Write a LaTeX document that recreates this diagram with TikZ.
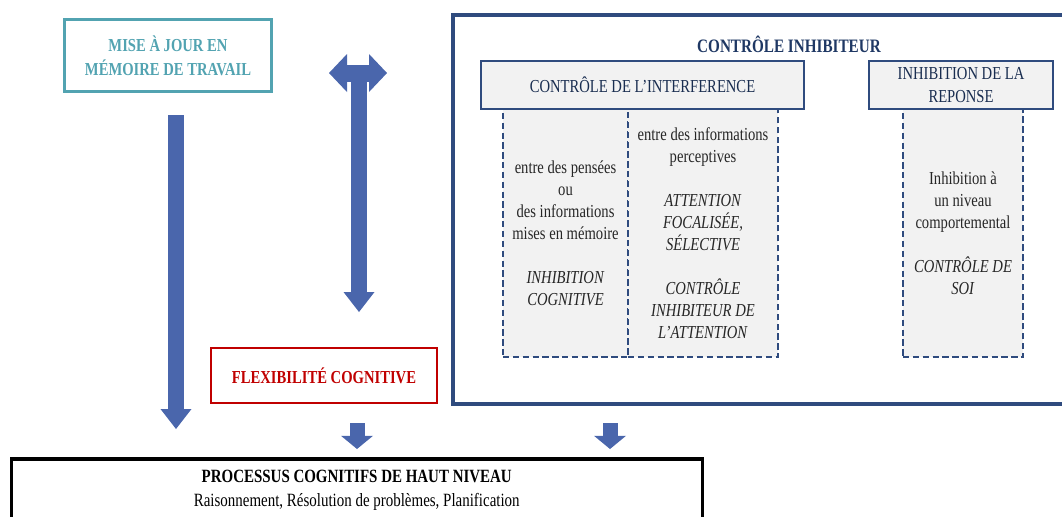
\documentclass[tikz,border=0pt]{standalone}
\usepackage{fontspec}
\setmainfont{Liberation Serif}[FakeStretch=0.8]
\usepackage{xcolor}
\usepackage{tikz}
\usetikzlibrary{shapes,positioning,arrows.meta}
\definecolor{tealc}{HTML}{52A3B1}
\definecolor{arrblue}{HTML}{4A66AC}
\definecolor{boxblue}{HTML}{2F4B7E}
\definecolor{navy}{HTML}{1F3864}
\definecolor{lgray}{HTML}{F2F2F2}
\definecolor{redc}{HTML}{C00000}
\tikzset{miseb/.style={draw=tealc,line width=2pt,text=tealc,align=center,font=\fontsize{13}{17}\selectfont\bfseries,minimum width=5.175cm,minimum height=1.8cm}}
\tikzset{inhb/.style={draw=boxblue,line width=2.8pt,minimum width=15.675cm,minimum height=9.7cm}}
\tikzset{titre/.style={text=navy,font=\fontsize{13.5}{16}\selectfont\bfseries}}
\tikzset{hdr/.style={draw=boxblue,fill=lgray,line width=1.8pt,text=navy!80!black,align=center,font=\fontsize{13}{16.3}\selectfont,minimum height=1.2cm,inner sep=1pt}}
\tikzset{col/.style={draw=boxblue,fill=lgray,line width=1.6pt,dash pattern=on 4.5pt off 2.5pt,text=black!85,align=center,font=\fontsize{13}{15.6}\selectfont,minimum height=6.2cm}}
\tikzset{flex/.style={draw=redc,line width=1.5pt,text=redc,font=\fontsize{13}{16}\selectfont\bfseries,minimum width=5.65cm,minimum height=1.375cm}}
\tikzset{proc/.style={draw=black,line width=2.2pt,align=center,font=\fontsize{13.3}{17}\selectfont,minimum width=17.26cm,minimum height=1.55cm}}
\tikzset{barr/.style={draw=arrblue,line width=0.4cm,-{Triangle[width=0.775cm,length=0.5cm,line width=0pt]}}}
\tikzset{sarr/.style={draw=arrblue,line width=0.375cm,-{Triangle[width=0.8cm,length=0.33cm,line width=0pt]}}}
\tikzset{dbarr/.style={draw=arrblue,line width=0.425cm,{Triangle[width=0.95cm,length=0.45cm,line width=0pt]}-{Triangle[width=0.95cm,length=0.45cm,line width=0pt]}}}

\begin{document}
\begin{tikzpicture}[x=0.025cm,y=-0.025cm]
        \useasboundingbox (0,0) rectangle (1062,516);
        \clip (0,0) rectangle (1062,516);

        \node[miseb] (mise) at (168,55.5) {MISE À JOUR EN\\MÉMOIRE DE TRAVAIL};
        \node[inhb] (inh) at (766.5,209.5) {};
        \node[titre] (tinh) at (789,44) {CONTRÔLE INHIBITEUR};
        \node[col,minimum width=3.125cm] (c1) at (565.5,233) {entre des pensées\\ou\\des informations\\mises en mémoire\\[15.6pt]\textit{INHIBITION}\\\textit{COGNITIVE}};
        \node[col,minimum width=3.75cm] (c2) at (703,233) {entre des informations\\perceptives\\[15.6pt]\textit{ATTENTION}\\\textit{FOCALISÉE,}\\\textit{SÉLECTIVE}\\[15.6pt]\textit{CONTRÔLE}\\\textit{INHIBITEUR DE}\\\textit{L’ATTENTION}};
        \node[col,minimum width=3cm] (c3) at (963,233) {Inhibition à\\un niveau\\comportemental\\[15.6pt]\textit{CONTRÔLE DE}\\\textit{SOI}};
        \node[hdr,minimum width=8.075cm] (interf) at (642.5,85) {CONTRÔLE DE L’INTERFERENCE};
        \node[hdr,minimum width=4.6cm] (rep) at (961,85) {INHIBITION DE LA\\REPONSE};
        \node[flex] (flex) at (324,375.5) {FLEXIBILITÉ COGNITIVE};
        \node[proc] (proc) at (356.75,490) {\textbf{PROCESSUS COGNITIFS DE HAUT NIVEAU}\\Raisonnement, Résolution de problèmes, Planification};

        \coordinate (m1) at (176,115);
        \coordinate (m2) at (176,429);
        \coordinate (hl) at (329,73);
        \coordinate (hr) at (387,73);
        \coordinate (hm) at (359,73);
        \coordinate (hb) at (359,312);
        \coordinate (f1) at (357,423);
        \coordinate (f2) at (357,449);
        \coordinate (i1) at (610,423);
        \coordinate (i2) at (610,449);

        \draw [barr] (m1) -- (m2);
        \draw [dbarr] (hl) -- (hr);
        \draw [barr] (hm) -- (hb);
        \draw [sarr] (f1) -- (f2);
        \draw [sarr] (i1) -- (i2);
    \end{tikzpicture}
\end{document}
